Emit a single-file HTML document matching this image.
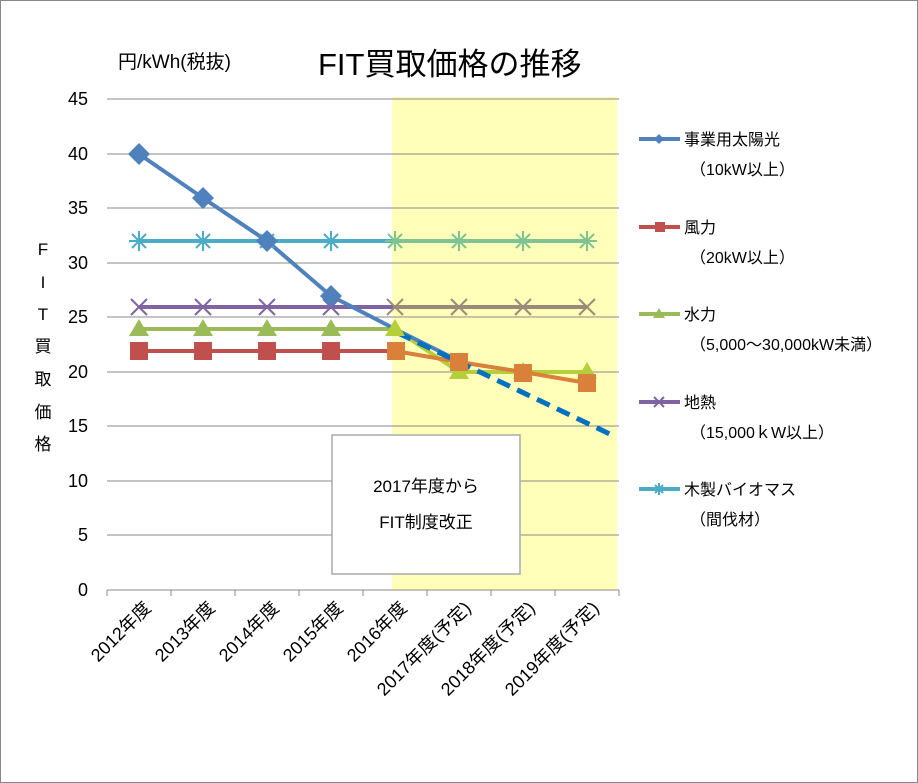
<!DOCTYPE html>
<html><head><meta charset="utf-8"><style>
body{margin:0;background:#fff}
svg{display:block;font-family:"Liberation Sans","Noto Sans CJK JP",sans-serif}
</style></head><body>
<svg width="918" height="783" viewBox="0 0 918 783">
<rect x="0.5" y="0.5" width="917" height="782" fill="#fff" stroke="#888"/>
<rect x="392" y="97" width="225" height="493" fill="#ffffb9"/>
<g stroke="#888" stroke-width="1">
<line x1="107" y1="99" x2="619" y2="99"/><line x1="107" y1="154" x2="619" y2="154"/>
<line x1="107" y1="208" x2="619" y2="208"/><line x1="107" y1="263" x2="619" y2="263"/>
<line x1="107" y1="317" x2="619" y2="317"/><line x1="107" y1="372" x2="619" y2="372"/>
<line x1="107" y1="426" x2="619" y2="426"/><line x1="107" y1="481" x2="619" y2="481"/>
<line x1="107" y1="535" x2="619" y2="535"/><line x1="107" y1="590" x2="619" y2="590"/>
<line x1="107" y1="590" x2="107" y2="596"/><line x1="171" y1="590" x2="171" y2="596"/>
<line x1="235" y1="590" x2="235" y2="596"/><line x1="299" y1="590" x2="299" y2="596"/>
<line x1="363" y1="590" x2="363" y2="596"/><line x1="427" y1="590" x2="427" y2="596"/>
<line x1="491" y1="590" x2="491" y2="596"/><line x1="555" y1="590" x2="555" y2="596"/>
<line x1="619" y1="590" x2="619" y2="596"/>
</g>
<g font-size="18" fill="#000" text-anchor="end">
<text x="88" y="105">45</text><text x="88" y="160">40</text><text x="88" y="214">35</text>
<text x="88" y="269">30</text><text x="88" y="323">25</text><text x="88" y="378">20</text>
<text x="88" y="432">15</text><text x="88" y="487">10</text><text x="88" y="541">5</text>
<text x="88" y="596">0</text>
</g>
<text x="118" y="68" font-size="19">円/kWh(税抜)</text>
<text x="318" y="75" font-size="31">FIT買取価格の推移</text>
<g font-size="17" text-anchor="middle">
<text x="43" y="255">F</text><text x="43" y="288">I</text><text x="43" y="320">T</text>
<text x="43" y="352">買</text><text x="43" y="385">取</text><text x="43" y="418">価</text><text x="43" y="450">格</text>
</g>
<g font-size="18" text-anchor="end">
<text transform="translate(152,609) rotate(-45)">2012年度</text>
<text transform="translate(216,609) rotate(-45)">2013年度</text>
<text transform="translate(280,609) rotate(-45)">2014年度</text>
<text transform="translate(344,609) rotate(-45)">2015年度</text>
<text transform="translate(408,609) rotate(-45)">2016年度</text>
<text transform="translate(472,609) rotate(-45)">2017年度(予定)</text>
<text transform="translate(536,609) rotate(-45)">2018年度(予定)</text>
<text transform="translate(600,609) rotate(-45)">2019年度(予定)</text>
</g>
<polyline points="139,241 395,241" fill="none" stroke="#4bacc6" stroke-width="4"/>
<polyline points="395,241 587,241" fill="none" stroke="#7fc393" stroke-width="4"/>
<polyline points="139,307 395,307" fill="none" stroke="#8064a2" stroke-width="4"/>
<polyline points="395,307 587,307" fill="none" stroke="#9c8a78" stroke-width="4"/>
<polyline points="139,329 395,329" fill="none" stroke="#9bbb59" stroke-width="4"/>
<polyline points="395,329 459,372 587,372" fill="none" stroke="#b5cf3a" stroke-width="4"/>
<polyline points="139,351 395,351" fill="none" stroke="#c0504d" stroke-width="4"/>
<polyline points="395,351 459,362 523,372 587,383" fill="none" stroke="#d9803a" stroke-width="4"/>
<polyline points="139,154 203,198 267,241 331,296 395,329 459,361" fill="none" stroke="#4f81bd" stroke-width="4"/>
<line x1="398" y1="333" x2="614" y2="436" stroke="#0070c0" stroke-width="5" stroke-dasharray="14,8"/>
<g fill="none" stroke-width="2">
<g stroke="#4bacc6"><path d="M129,241h20M139,231v20M132,234l14,14M146,234l-14,14M193,241h20M203,231v20M196,234l14,14M210,234l-14,14M257,241h20M267,231v20M260,234l14,14M274,234l-14,14M321,241h20M331,231v20M324,234l14,14M338,234l-14,14"/></g>
<g stroke="#7fc393"><path d="M385,241h20M395,231v20M388,234l14,14M402,234l-14,14M449,241h20M459,231v20M452,234l14,14M466,234l-14,14M513,241h20M523,231v20M516,234l14,14M530,234l-14,14M577,241h20M587,231v20M580,234l14,14M594,234l-14,14"/></g>
<g stroke="#8064a2"><path d="M131,299l16,16M147,299l-16,16M195,299l16,16M211,299l-16,16M259,299l16,16M275,299l-16,16M323,299l16,16M339,299l-16,16"/></g>
<g stroke="#9c8a78"><path d="M387,299l16,16M403,299l-16,16M451,299l16,16M467,299l-16,16M515,299l16,16M531,299l-16,16M579,299l16,16M595,299l-16,16"/></g>
</g>
<g fill="#9bbb59"><path d="M139,319l10,17h-20zM203,319l10,17h-20zM267,319l10,17h-20zM331,319l10,17h-20z"/></g>
<g fill="#b5cf3a"><path d="M395,319l10,17h-20zM459,362l10,17h-20zM523,362l10,17h-20zM587,362l10,17h-20z"/></g>
<g fill="#c0504d"><rect x="130" y="342" width="18" height="18"/><rect x="194" y="342" width="18" height="18"/><rect x="258" y="342" width="18" height="18"/><rect x="322" y="342" width="18" height="18"/></g>
<g fill="#d9803a"><rect x="387" y="342" width="18" height="18"/><rect x="450" y="353" width="18" height="18"/><rect x="514" y="364" width="18" height="18"/><rect x="578" y="374" width="18" height="18"/></g>
<g fill="#4f81bd"><path d="M139,143l11,11-11,11-11-11zM203,187l11,11-11,11-11-11zM267,230l11,11-11,11-11-11zM331,285l11,11-11,11-11-11z"/></g>
<rect x="332" y="435" width="188" height="139" fill="#fff" stroke="#aaa" stroke-width="1.5"/>
<text x="426" y="492" font-size="17" text-anchor="middle">2017年度から</text>
<text x="426" y="528" font-size="17" text-anchor="middle">FIT制度改正</text>
<g stroke-width="4">
<line x1="639" y1="139" x2="680" y2="139" stroke="#4f81bd"/>
<line x1="639" y1="227" x2="680" y2="227" stroke="#c0504d"/>
<line x1="639" y1="314" x2="680" y2="314" stroke="#9bbb59"/>
<line x1="639" y1="402" x2="680" y2="402" stroke="#8064a2"/>
<line x1="639" y1="489" x2="680" y2="489" stroke="#4bacc6"/>
</g>
<path d="M659,134l5,5-5,5-5-5z" fill="#4f81bd"/>
<rect x="655" y="222" width="10" height="10" fill="#c0504d"/>
<path d="M659,308l6,10h-12z" fill="#9bbb59"/>
<path d="M654,397l10,10M664,397l-10,10" stroke="#8064a2" stroke-width="2"/>
<path d="M653,489h12M659,483v12M655,485l8,8M663,485l-8,8" stroke="#4bacc6" stroke-width="2"/>
<g font-size="16">
<text x="684" y="145">事業用太陽光</text><text x="690" y="175">（10kW以上）</text>
<text x="684" y="233">風力</text><text x="690" y="263">（20kW以上）</text>
<text x="684" y="320">水力</text><text x="690" y="350">（5,000～30,000kW未満）</text>
<text x="684" y="408">地熱</text><text x="690" y="438">（15,000ｋW以上）</text>
<text x="684" y="495">木製バイオマス</text><text x="690" y="525">（間伐材）</text>
</g>
</svg>
</body></html>
